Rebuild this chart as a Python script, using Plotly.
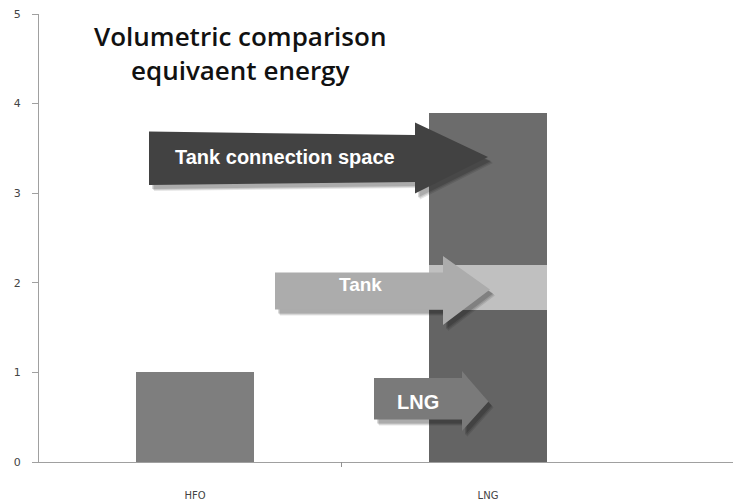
import plotly.graph_objects as go

# ---- data ----
categories = ["HFO", "LNG"]
hfo_value = [1.0, None]
lng_bottom = [None, 1.7]   # LNG
lng_tank = [None, 0.5]     # Tank
lng_space = [None, 1.7]    # Tank connection space
y_ticks = [0, 1, 2, 3, 4, 5]

W, H = 733, 501
L, R, T, B = 39, 0, 14, 39
PW, PH = W - L - R, H - T - B

def px(x):
    return (x - L) / PW

def py(y):
    return (H - B - y) / PH

xpos = [0, 1]
fig = go.Figure()
fig.add_bar(x=xpos, y=hfo_value, marker_color="#7e7e7e", width=0.4, showlegend=False)
fig.add_bar(x=xpos, y=lng_bottom, marker_color="#646464", width=0.4, showlegend=False)
fig.add_bar(x=xpos, y=lng_tank, marker_color="#c0c0c0", width=0.4, showlegend=False)
fig.add_bar(x=xpos, y=lng_space, marker_color="#6c6c6c", width=0.4, showlegend=False)
for tr in fig.data:
    tr.marker.line.width = 0

def arrow_path(pts):
    s = "M " + " L ".join(f"{px(a):.5f},{py(b):.5f}" for a, b in pts) + " Z"
    return s

def add_arrow(x0, ytl, ybl, ytr, ybr, xh, yht, yhb, xt, yt, color):
    pts = [(x0, ytl), (xh, ytr), (xh, yht), (xt, yt), (xh, yhb), (xh, ybr), (x0, ybl)]
    # shadow
    for dx, dy, op in [(5, 6, 0.10), (4, 5, 0.12), (3, 4, 0.15)]:
        sp = [(a + dx, b + dy) for a, b in pts]
        fig.add_shape(type="path", path=arrow_path(sp), xref="paper", yref="paper",
                      fillcolor="black", opacity=op, line_width=0, layer="above")
    fig.add_shape(type="path", path=arrow_path(pts), xref="paper", yref="paper",
                  fillcolor=color, line_width=0, layer="above")

add_arrow(149, 131.5, 185, 135, 182, 415, 122.5, 193.5, 488, 157, "#424242")
add_arrow(275, 272.5, 309.5, 272.5, 309.5, 443, 256, 325, 490, 289.5, "#acacac")
add_arrow(374, 378, 419.5, 378, 419.5, 462, 371, 431, 488.5, 401.5, "#7a7a7a")

def label(text, x, y, size):
    fig.add_annotation(text=f"<b>{text}</b>", x=px(x), y=py(y), xref="paper", yref="paper",
                       showarrow=False, font=dict(family="Liberation Sans, Arial", size=size, color="white"),
                       xanchor="center", yanchor="middle")

label("Tank connection space", 285, 157, 20)
label("Tank", 360, 284, 19)
label("LNG", 418, 402, 20)

fig.add_annotation(text="Volumetric comparison<br>equivaent energy", x=px(240), y=py(53),
                   xref="paper", yref="paper", showarrow=False,
                   font=dict(family="Open Sans", size=26, color="#111111", weight=600),
                   xanchor="center", yanchor="middle", align="center")

# separator tick on x axis
fig.add_shape(type="line", x0=0.5, x1=0.5, xref="x", y0=py(H - B), y1=py(H - B + 5), yref="paper",
              line=dict(color="#909090", width=1))

fig.update_layout(
    width=W, height=H, margin=dict(l=L, r=R, t=T, b=B),
    barmode="stack", bargap=0,
    plot_bgcolor="white", paper_bgcolor="white",
    xaxis=dict(range=[-0.5324, 1.8362], tickvals=xpos, ticktext=categories, ticks="",
               showgrid=False, zeroline=False, showline=True, linecolor="#a0a0a0",
               tickfont=dict(family="DejaVu Sans", size=10, color="#444444"),
               ticklabelstandoff=24),
    yaxis=dict(range=[0, 5], tickvals=y_ticks, ticks="outside", ticklen=6, tickcolor="#a0a0a0",
               showgrid=False, zeroline=False, showline=True, linecolor="#a0a0a0",
               tickfont=dict(family="DejaVu Sans", size=11, color="#444444"),
               ticklabelstandoff=9),
)

fig.write_html("out.html", config={"displayModeBar": False},
               post_script="document.body.style.margin='0';document.body.style.overflow='hidden';")
